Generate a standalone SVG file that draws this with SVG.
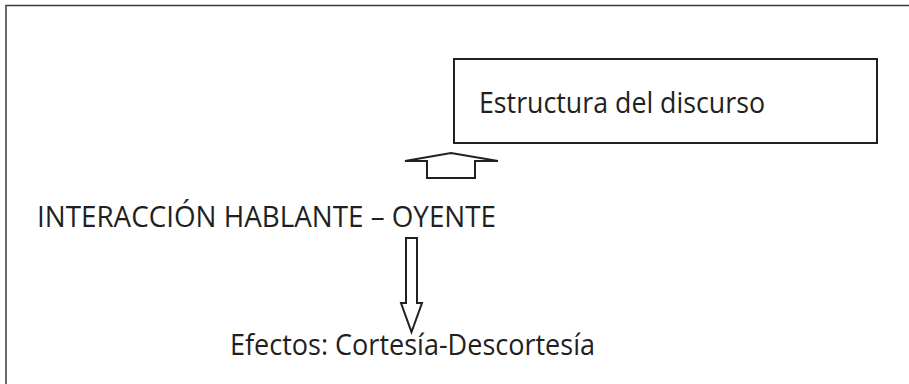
<svg xmlns="http://www.w3.org/2000/svg" width="909" height="384" viewBox="0 0 909 384">
<style>
.t{font-family:"Open Sans","Liberation Sans",sans-serif;font-size:28.5px;fill:#231f20}
.ln{fill:none;stroke:#231f20;stroke-width:2}
.ar{fill:#fff;stroke:#231f20;stroke-width:2;stroke-linejoin:miter}
</style>
<rect width="909" height="384" fill="#fff"/>
<g id="frame"><path d="M6,384 V5.5 H909" fill="none" stroke="#3a3a3a" stroke-width="1.5"/></g>
<g id="node-estructura">
<rect class="ln" x="454" y="59" width="423" height="84"/>
<text class="t" x="479" y="113" textLength="286" lengthAdjust="spacingAndGlyphs">Estructura del discurso</text>
</g>
<g id="node-interaccion">
<text class="t" x="37" y="227" textLength="459" lengthAdjust="spacingAndGlyphs">INTERACCIÓN HABLANTE – OYENTE</text>
</g>
<g id="node-efectos">
<text class="t" x="230" y="355" textLength="365" lengthAdjust="spacingAndGlyphs">Efectos: Cortesía-Descortesía</text>
</g>
<g id="connectors">
<polygon class="ar" points="427,178 427,161 405,161 451,153 498,161 475,161 475,178"/>
<polygon class="ar" points="406,238 417,238 417,303 422,303 411.5,332 401,303 406,303"/>
</g>
</svg>
